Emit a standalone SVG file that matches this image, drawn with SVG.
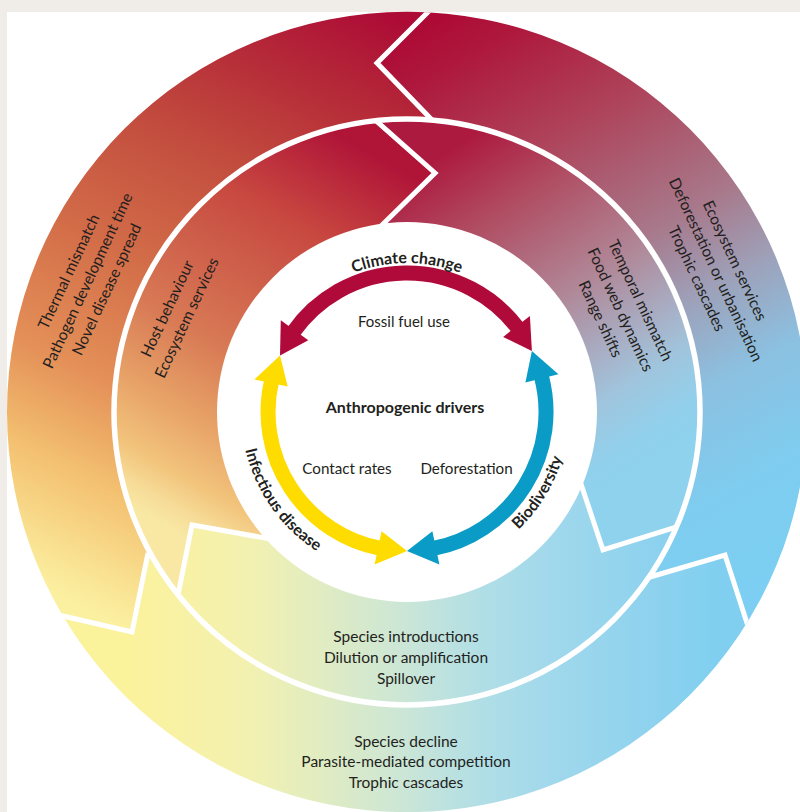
<svg xmlns="http://www.w3.org/2000/svg" width="800" height="812" viewBox="0 0 800 812">
<style>
text{font-family:Lato,"Open Sans","DejaVu Sans",sans-serif;fill:#231f20;font-size:15.5px}
.b{font-weight:bold;font-size:16px}
.seam{fill:none;stroke:#fff;stroke-width:5;stroke-linejoin:miter}
.band{fill:none;stroke-width:15}
</style>
<defs>
<linearGradient id="gR" gradientUnits="userSpaceOnUse" x1="420" y1="30" x2="740" y2="600">
<stop offset="0" stop-color="#ad0b36"/><stop offset="0.07" stop-color="#ae183c"/><stop offset="0.23" stop-color="#ae4058"/><stop offset="0.44" stop-color="#a8788a"/><stop offset="0.56" stop-color="#9ea0b8"/><stop offset="0.69" stop-color="#8cc0e0"/><stop offset="0.85" stop-color="#7ecdf0"/><stop offset="1" stop-color="#7ccff2"/>
</linearGradient>
<linearGradient id="gRm" gradientUnits="userSpaceOnUse" x1="420" y1="170" x2="620" y2="480">
<stop offset="0" stop-color="#ad1a40"/><stop offset="0.2" stop-color="#b04a60"/><stop offset="0.5" stop-color="#b08898"/><stop offset="0.68" stop-color="#a8aec4"/><stop offset="0.79" stop-color="#a0c4dc"/><stop offset="0.93" stop-color="#92d0ec"/><stop offset="1" stop-color="#8ed2ee"/>
</linearGradient>
<linearGradient id="gL" gradientUnits="userSpaceOnUse" x1="400" y1="20" x2="110" y2="620">
<stop offset="0" stop-color="#ad0b36"/><stop offset="0.14" stop-color="#b52a38"/><stop offset="0.3" stop-color="#c24c3e"/><stop offset="0.49" stop-color="#d26c48"/><stop offset="0.68" stop-color="#e49058"/><stop offset="0.82" stop-color="#f3c070"/><stop offset="0.95" stop-color="#f9e494"/><stop offset="1" stop-color="#fbf0a0"/>
</linearGradient>
<linearGradient id="gLm" gradientUnits="userSpaceOnUse" x1="400" y1="170" x2="190" y2="540">
<stop offset="0" stop-color="#b01538"/><stop offset="0.23" stop-color="#c84840"/><stop offset="0.35" stop-color="#cc5a48"/><stop offset="0.57" stop-color="#d87a55"/><stop offset="0.75" stop-color="#e8a468"/><stop offset="0.88" stop-color="#f2c47c"/><stop offset="0.95" stop-color="#f6dc98"/><stop offset="1" stop-color="#f8e8a4"/>
</linearGradient>
<linearGradient id="gB" gradientUnits="userSpaceOnUse" x1="130" y1="0" x2="720" y2="0">
<stop offset="0" stop-color="#fbf29c"/><stop offset="0.2" stop-color="#f3f1b0"/><stop offset="0.3" stop-color="#e4edbe"/><stop offset="0.46" stop-color="#cce6d6"/><stop offset="0.6" stop-color="#b0dee6"/><stop offset="0.72" stop-color="#a0d8ec"/><stop offset="0.88" stop-color="#8ed2ee"/><stop offset="1" stop-color="#80cff0"/>
</linearGradient>
<clipPath id="cOuter"><path clip-rule="evenodd" d="M7 412a400 400 0 1 0 800 0a400 400 0 1 0 -800 0Z M114 412a293 293 0 1 0 586 0a293 293 0 1 0 -586 0Z"/></clipPath>
<clipPath id="cMid"><circle cx="407" cy="412" r="293"/></clipPath>
<path id="pClimate" d="M258 412A149 149 0 0 1 556 412"/>
<path id="pBio" d="M407 574A162 162 0 0 0 569 412"/>
<path id="pInf" d="M241 412A166 166 0 0 0 407 578"/>
</defs>
<rect width="800" height="812" fill="#f0ede8"/>
<rect x="7" y="12" width="793" height="800" fill="#fff"/>

<g id="outer-ring" clip-path="url(#cOuter)">
<polygon fill="url(#gR)" points="407,412 430,118 377,63 440,0 440,-20 840,-20 840,700 757,654 747,623 725,555 655,575"/>
<polygon fill="url(#gB)" points="407,412 655,575 725,555 747,623 757,654 840,700 840,900 -40,900 -40,600 37,610 132,632 147,557"/>
<polygon fill="url(#gL)" points="407,412 147,557 132,632 37,610 -40,600 -40,-20 440,-20 440,0 377,63 430,118"/>
</g>
<g id="middle-ring" clip-path="url(#cMid)">
<polygon fill="url(#gRm)" points="407,412 383,224 435,173 365,111 365,-20 840,-20 840,522 692,522 603,550 582,487"/>
<polygon fill="url(#gB)" points="407,412 582,487 603,550 692,522 840,522 840,900 -40,900 -40,615 174,615 192,525 263,538"/>
<polygon fill="url(#gLm)" points="407,412 263,538 192,525 174,615 -40,615 -40,-20 365,-20 365,111 435,173 383,224"/>
</g>
<circle cx="407" cy="412" r="293" fill="none" stroke="#fff" stroke-width="5.5"/>
<circle id="centre" cx="407" cy="412" r="190" fill="#fff"/>

<g id="seams">
<g clip-path="url(#cOuter)">
<polyline class="seam" points="440,0 377,63 432,120"/>
<polyline class="seam" points="650,577 725,555 757,654"/>
<polyline class="seam" points="37,610 132,632 148,553"/>
</g>
<g clip-path="url(#cMid)">
<polyline class="seam" points="365,111 435,173 378,229"/>
<polyline class="seam" points="579,478 603,550 692,522"/>
<polyline class="seam" points="174,615 192,525 271,539"/>
</g>
</g>

<g id="connectors">
<g id="arrow-climate" fill="#b00a3a" stroke="#b00a3a">
<path class="band" d="M293.1 332.3A139 139 0 0 1 518.0 328.3"/>
<polygon stroke="none" points="280.0,355.5 280.8,320.3 308.3,340.3"/>
<polygon stroke="none" points="531.9,351.1 529.9,316.0 503.1,336.9"/>
</g>
<g id="arrow-biodiversity" fill="#0a9cc6" stroke="#0a9cc6">
<path class="band" d="M541.3 376.0A139 139 0 0 1 433.5 548.4"/>
<polygon stroke="none" points="531.9,351.1 558.4,374.3 525.4,382.5"/>
<polygon stroke="none" points="407,551 439.4,564.6 432.4,531.3"/>
</g>
<g id="arrow-infectious" fill="#fedc00" stroke="#fedc00">
<path class="band" d="M380.5 548.4A139 139 0 0 1 271.6 380.7"/>
<polygon stroke="none" points="280.0,355.5 254.4,379.6 287.7,386.6"/>
<polygon stroke="none" points="407,551 374.6,564.6 381.6,531.3"/>
</g>
</g>

<g id="node-climate">
<text class="b"><textPath href="#pClimate" startOffset="50%" text-anchor="middle">Climate change</textPath></text>
<text x="404" y="327" text-anchor="middle" style="font-size:15px">Fossil fuel use</text>
</g>
<g id="node-biodiversity">
<text class="b"><textPath href="#pBio" startOffset="65%" text-anchor="middle">Biodiversity</textPath></text>
<text x="466.5" y="474" text-anchor="middle" style="font-size:15.2px">Deforestation</text>
</g>
<g id="node-infectious">
<text class="b"><textPath href="#pInf" startOffset="39%" text-anchor="middle">Infectious disease</textPath></text>
<text x="347" y="474" text-anchor="middle" style="font-size:15.2px">Contact rates</text>
</g>
<g id="node-drivers">
<text class="b" x="405" y="413" text-anchor="middle">Anthropogenic drivers</text>
</g>

<g id="ring-left-outer" transform="translate(73.5 274) rotate(-65)">
<text text-anchor="middle"><tspan x="0" y="0">Thermal mismatch</tspan><tspan x="0" y="21">Pathogen development time</tspan><tspan x="0" y="42">Novel disease spread</tspan></text>
</g>
<g id="ring-left-middle" transform="translate(172 311) rotate(-65)">
<text text-anchor="middle"><tspan x="0" y="0">Host behaviour</tspan><tspan x="0" y="21.5">Ecosystem services</tspan></text>
</g>
<g id="ring-right-outer" transform="translate(730 263) rotate(65)">
<text text-anchor="middle"><tspan x="0" y="0">Ecosystem services</tspan><tspan x="0" y="21">Deforestation or urbanisation</tspan><tspan x="0" y="42">Trophic cascades</tspan></text>
</g>
<g id="ring-right-middle" transform="translate(635.5 302.6) rotate(65)">
<text text-anchor="middle"><tspan x="0" y="0">Temporal mismatch</tspan><tspan x="0" y="22">Food web dynamics</tspan><tspan x="0" y="44">Range shifts</tspan></text>
</g>
<g id="ring-bottom-middle">
<text text-anchor="middle"><tspan x="406" y="642">Species introductions</tspan><tspan x="406" y="663">Dilution or amplification</tspan><tspan x="406" y="684">Spillover</tspan></text>
</g>
<g id="ring-bottom-outer">
<text text-anchor="middle"><tspan x="406" y="746.5">Species decline</tspan><tspan x="406" y="767">Parasite-mediated competition</tspan><tspan x="406" y="787.5">Trophic cascades</tspan></text>
</g>
</svg>
